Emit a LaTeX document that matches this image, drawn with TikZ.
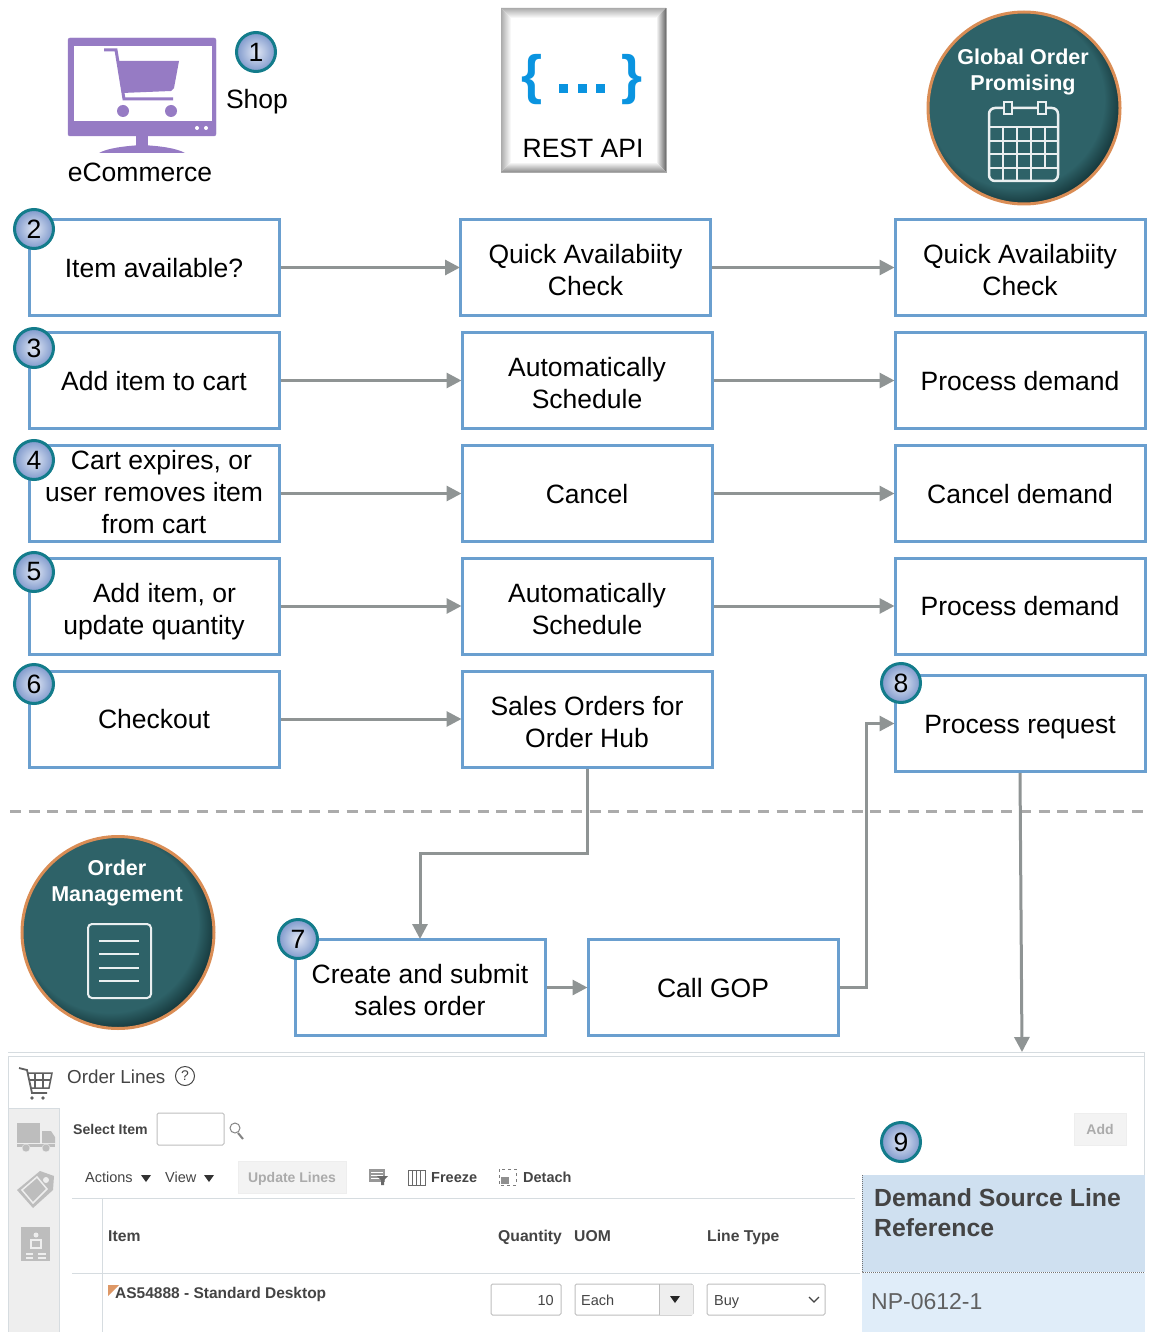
\documentclass[tikz,border=0pt]{standalone}
\usepackage{fontspec}
\setmainfont{Liberation Sans}
\usepackage{tikz}
\usetikzlibrary{arrows.meta}
\definecolor{boxblue}{HTML}{6A9FCF}
\definecolor{flowgray}{HTML}{8F9494}
\definecolor{dashgray}{HTML}{ABABAB}
\definecolor{badgerim}{HTML}{137C8B}
\definecolor{badgein}{HTML}{E2E8F5}
\definecolor{badgeout}{HTML}{7F99CC}
\definecolor{cartpurple}{HTML}{967BC4}
\definecolor{restblue}{HTML}{0A94E0}
\definecolor{disc}{HTML}{2E6268}
\definecolor{discdark}{HTML}{173A3E}
\definecolor{discrim}{HTML}{DA8D55}
\definecolor{uitext}{HTML}{444444}
\definecolor{uidim}{HTML}{ABABAB}
\definecolor{uiline}{HTML}{D6DCE0}
\definecolor{uiside}{HTML}{EEEEEE}
\definecolor{uiicon}{HTML}{BDBDBD}
\definecolor{panelhead}{HTML}{CFE0F0}
\definecolor{panelrow}{HTML}{E0EDF9}
\pgfdeclareradialshading{discshade}{\pgfpoint{-4bp}{4bp}}{color(0bp)=(disc); color(23bp)=(disc); color(27bp)=(discdark); color(50bp)=(discdark)}
\newcommand{\firstline}{\rule{0pt}{31pt}}
\newcommand{\dropline}[1]{\raisebox{-3.5pt}{#1}}
\tikzset{
 flowbox/.style={draw=boxblue, fill=white, line width=3pt, minimum width=250pt, minimum height=96pt, inner sep=0pt, align=center, font=\fontsize{26.5}{32}\selectfont, execute at begin node={\rule{0pt}{25.5pt}}, execute at end node={\rule[-6.5pt]{0pt}{6.5pt}}},
 badge/.style={circle, draw=badgerim, line width=3pt, inner color=badgein, outer color=badgeout, minimum size=39pt, inner sep=0pt, font=\fontsize{26.5}{30}\selectfont},
 flowline/.style={draw=flowgray, line width=3pt, shorten >=-1pt, -{Triangle[length=15pt,width=15pt]}},
 plaintext/.style={inner sep=0pt, font=\fontsize{26.5}{32}\selectfont},
 disctext/.style={inner sep=0pt, text=white, align=center, font=\fontsize{21.5}{26}\selectfont\bfseries},
 discnode/.style={circle, draw=discrim, line width=3pt, shading=discshade, minimum size=192pt, inner sep=0pt},
 uilabel/.style={inner sep=0pt, anchor=base west, text=uitext, font=\fontsize{14.5}{17}\selectfont\bfseries},
 uihead/.style={uilabel, font=\fontsize{15.7}{17}\selectfont\bfseries},
 uiplain/.style={uilabel, font=\fontsize{14.5}{17}\selectfont},
 uibox/.style={draw=uiicon, line width=1pt, rounded corners=1.5pt, fill=white, inner sep=0pt},
 uibutton/.style={inner sep=0pt, text=uidim, fill=uiside!70, draw=uiside, text height=10pt, text depth=0pt, font=\fontsize{14}{17}\selectfont\bfseries}
}
\begin{document}
\begin{tikzpicture}[x=1pt,y=-1pt]
\path[use as bounding box] (0,0) rectangle (1149,1332);

\filldraw[fill=cartpurple, draw=cartpurple, rounded corners=2pt] (68,38) rectangle (216,136);
\filldraw[fill=white, draw=white] (74,46) rectangle (211,120);
\fill[cartpurple] (136,135) rectangle (148,146);
\fill[cartpurple] (99,153) .. controls (108,148) and (125,146) .. (142,145) .. controls (160,146) and (176,148) .. (185,153) -- cycle;
\fill[cartpurple] (117,61) -- (179,61) -- (174,88) -- (171,91) -- (122,93) -- cycle;
\draw[cartpurple, line width=3pt] (104,50) -- (116,50) -- (124,99) -- (173,99);
\foreach \x in {123,171}
	\fill[cartpurple] (\x,111) circle [radius=6];
\foreach \x in {197,206}
	\fill[white] (\x,128) circle [radius=2];
\node[plaintext] (ecom) at (140,172) {eCommerce};
\node[plaintext] (shop) at (257,102) {Shop};

\filldraw[fill=white, draw=uidim] (501,8) rectangle (666,172);
\shade[top color=uidim, bottom color=white] (501,8) -- (666,8) -- (656,18) -- (511,18) -- cycle;
\shade[left color=uidim, right color=white] (501,8) -- (511,18) -- (511,162) -- (501,172) -- cycle;
\shade[left color=white, right color=black!60] (666,8) -- (656,18) -- (656,162) -- (666,172) -- cycle;
\shade[top color=white, bottom color=black!45] (501,172) -- (511,162) -- (656,162) -- (666,172) -- cycle;
\node[inner sep=0pt, text=restblue, font=\fontsize{54}{54}\selectfont\bfseries] (bracel) at (532,80) {\{};
\node[inner sep=0pt, text=restblue, font=\fontsize{54}{54}\selectfont\bfseries] (bracer) at (632,80) {\}};
\foreach \x in {559,578,596}
	\fill[restblue] (\x,84) rectangle +(9,9);
\node[plaintext] (rest) at (583,148) {REST API};

\node[discnode] (gop) at (1024,108) {};
\node[disctext] (goptext) at (1023,72) {Global Order\\Promising};
\draw[white!90!disc, line width=2.5pt, rounded corners=6pt] (989,108) rectangle (1058,181);
\draw[white!90!disc, line width=2pt] (989,127) -- (1058,127);
\foreach \y in {141,154,168}
	\draw[white!90!disc, line width=2pt] (989,\y) -- (1058,\y);
\foreach \x in {1003,1017,1031}
	\draw[white!90!disc, line width=2pt] (\x,127) -- (\x,181);
\draw[white!90!disc, line width=2pt] (1045,127) -- (1045,168);
\foreach \x in {1004,1038}
	\filldraw[fill=disc, draw=white!90!disc, line width=2pt] (\x,102) rectangle +(8,12);

\foreach \name/\x/\y/\txt in {
 item/154/267.5/{Item available?},
 add/154/380.5/{Add item to cart},
 expire/154/493.5/{\dropline{\hspace*{15pt}Cart expires, or}\\\dropline{user removes item}\\\dropline{from cart}},
 update/154/606/{\firstline\hspace*{21pt}Add item, or\\update quantity},
 checkout/154/719/{Checkout},
 quicka/585.5/267.5/{\firstline Quick Availabiity\\Check},
 schedulea/587/380.5/{\firstline Automatically\\Schedule},
 cancel/587/493.5/{Cancel},
 scheduleb/587/606/{\firstline Automatically\\Schedule},
 salesorder/587/719/{\firstline Sales Orders for\\Order Hub},
 quickb/1020/267.5/{\firstline Quick Availabiity\\Check},
 processa/1020/380.5/{Process demand},
 canceldemand/1020/493.5/{Cancel demand},
 processb/1020/606/{Process demand},
 request/1020/723.5/{Process request},
 create/420/987.5/{\firstline Create and submit\\sales order},
 callgop/713/987.5/{Call GOP}}
	\node[flowbox] (\name) at (\x,\y) {\txt};

\foreach \a/\b in {item/quicka, quicka/quickb, add/schedulea, schedulea/processa, expire/cancel, cancel/canceldemand, update/scheduleb, scheduleb/processb, checkout/salesorder, create/callgop}
	\draw[flowline] (\a) -- (\b);

\draw[dashgray, line width=3pt, dash pattern=on 11pt off 7.7pt] (10,811) -- (1149,811);

\coordinate (bendone) at (420,853);
\coordinate (bendtwo) at (866,987.5);
\coordinate (linestop) at (1022,1051);
\draw[flowline] (salesorder.south) |- (bendone) -- (create.north);
\draw[flowline] (callgop.east) -- (bendtwo) |- (request.west);
\draw[flowline] (request.south) -- (linestop);

\node[discnode] (om) at (118,932.5) {};
\node[disctext] (omtext) at (117,883) {Order\\Management};
\draw[white!90!disc, line width=2pt, rounded corners=4pt] (88,924) rectangle (151,998);
\foreach \y in {941,954,968,981}
	\draw[white!90!disc, line width=2pt] (99,\y) -- (139,\y);

\draw[uiline, line width=1pt] (8,1052) -- (1145,1052);
\draw[uiline, line width=1pt] (8,1056) -- (1145,1056);
\draw[uiline, line width=1pt] (1144.5,1052) -- (1144.5,1175);
\fill[uiside] (8,1108) rectangle (59,1332);
\draw[uiline, line width=1pt] (8,1056) -- (8,1332);
\draw[uiline, line width=1pt] (59,1108) -- (59,1332);
\draw[uiline, line width=1pt] (8,1108) -- (59,1108);

\draw[uitext!85, line width=1.8pt] (19,1068) -- (27,1070) -- (32,1093) -- (47,1093);
\draw[uitext!85, line width=1.5pt] (27,1073) -- (52,1073) -- (49,1088) -- (30,1088);
\draw[uitext!85, line width=1.2pt] (29,1080) -- (51,1080);
\foreach \x in {35,43}
	\draw[uitext!85, line width=1.2pt] (\x,1073) -- (\x,1088);
\foreach \x in {32,43}
	\fill[uitext!85] (\x,1098) circle [radius=1.8];

\fill[uiicon] (17,1123) rectangle (40,1143);
\fill[uiicon] (42,1131) -- (51,1131) -- (55,1137) -- (55,1143) -- (42,1143) -- cycle;
\fill[uiicon] (17,1143.5) rectangle (55,1147);
\foreach \x in {26,46}
	\filldraw[fill=uiicon, draw=uiside] (\x,1148) circle [radius=4];

\fill[uiicon] (17,1190) -- (40,1171) -- (54,1176) -- (53,1190) -- (33,1208) -- cycle;
\draw[uiside, line width=1.5pt] (22,1190) -- (37,1177) -- (47,1189) -- (33,1203) -- cycle;
\fill[uiside] (46,1180) circle [radius=3];

\fill[uiicon] (21,1227) rectangle (50,1261);
\fill[uiside] (36,1235) circle [radius=2.5];
\draw[uiside, line width=1.5pt] (31,1240) rectangle (41,1248);
\foreach \y in {1254,1258} {
	\draw[uiside, line width=1.2pt] (26,\y) -- (33,\y);
	\draw[uiside, line width=1.2pt] (38,\y) -- (46,\y);
}

\node[uilabel, font=\fontsize{18.8}{22}\selectfont] (lines) at (67,1083) {Order Lines};
\node[circle, draw=uitext, line width=1pt, minimum size=19pt, inner sep=0pt, text=uitext, font=\fontsize{14}{16}\selectfont] (help) at (185,1076) {?};
\node[uilabel, font=\fontsize{14.1}{17}\selectfont\bfseries] (select) at (73,1134) {Select Item};
\node[uibox, minimum width=67pt, minimum height=32pt] (selectbox) at (190.5,1129) {};
\draw[uiicon!70!black, line width=1pt] (235,1128) circle [radius=5];
\draw[uiicon!70!black, line width=2pt] (238,1133) -- (243,1139);

\node[uiplain] (actions) at (85,1182) {Actions};
\node[uiplain] (view) at (165,1182) {View};
\foreach \x in {146,209}
	\fill[black!80] (\x-5,1175) -- (\x+5,1175) -- (\x,1182) -- cycle;
\node[uibutton, minimum width=108pt, minimum height=32pt] (updatelines) at (292,1177) {Update Lines};

\fill[uiicon!80!black] (369,1169) rectangle (385,1182);
\foreach \y in {1172,1175,1178}
	\draw[white, line width=.8pt] (371,\y) -- (383,\y);
\fill[uitext!80] (377,1176) -- (388,1176) -- (384,1180) -- (384,1185) -- (381,1185) -- (381,1180) -- cycle;
\draw[uitext!80, line width=1pt] (408,1170) rectangle (425,1185);
\foreach \x in {412,416,420}
	\draw[uitext!80, line width=1pt] (\x,1170) -- (\x,1185);
\node[uilabel] (freeze) at (431,1182) {Freeze};
\draw[uitext!70, line width=1pt, dashed] (499,1169) rectangle (516,1185);
\fill[uitext!60] (501,1177) rectangle (509,1184);
\node[uilabel] (detach) at (523,1182) {Detach};

\draw[uiline, line width=1pt] (72,1198) -- (855,1198);
\draw[uiline, line width=1pt] (72,1273) -- (860,1273);
\draw[uiline, line width=1pt] (102,1198) -- (102,1332);

\node[uihead] (itemhead) at (108,1241) {Item};
\node[uihead] (qtyhead) at (498,1241) {Quantity};
\node[uihead] (uomhead) at (574,1241) {UOM};
\node[uihead] (typehead) at (707,1241) {Line Type};

\fill[discrim!90] (108,1285) -- (119,1285) -- (108,1296) -- cycle;
\node[uilabel, font=\fontsize{15.5}{18}\selectfont\bfseries] (desktop) at (115,1298.5) {AS54888 - Standard Desktop};
\node[uibox, minimum width=70pt, minimum height=31pt] (qtybox) at (526,1299.5) {};
\node[inner sep=0pt, anchor=east, text=uitext, font=\fontsize{14.5}{17}\selectfont] (qty) at (554,1300) {10};
\node[uibox, minimum width=118pt, minimum height=31pt] (uombox) at (634,1299.5) {};
\fill[uiside] (659,1285) rectangle (692.5,1314.5);
\draw[uiicon, line width=1pt] (659,1284) -- (659,1315);
\fill[black!85] (670,1296) -- (680,1296) -- (675,1303) -- cycle;
\node[uiplain] (each) at (581,1305) {Each};
\node[uibox, minimum width=118pt, minimum height=31pt] (typebox) at (766,1299.5) {};
\node[uiplain] (buy) at (714,1305) {Buy};
\draw[uitext, line width=1.3pt] (809,1297) -- (814,1302) -- (819,1297);

\node[uibutton, minimum width=52pt, minimum height=32pt] (addbtn) at (1100,1129) {Add};

\fill[panelhead] (862,1175) rectangle (1145,1272);
\fill[panelrow] (862,1273) rectangle (1145,1332);
\draw[black!55, line width=1pt, densely dotted] (862,1175) -- (862,1272) -- (1145,1272);
\node[inner sep=0pt, anchor=north west, align=left, text=uitext, font=\fontsize{24.8}{30}\selectfont\bfseries] (demandhead) at (874,1188) {Demand Source Line\\Reference};
\node[uilabel, font=\fontsize{23}{26}\selectfont, text=uitext!85] (demandval) at (871,1309) {NP-0612-1};

\foreach \n/\x/\y in {1/256/52, 2/34/229, 3/34/348, 4/34/460, 5/34/572, 6/34/684, 7/298/939, 8/901/683, 9/901/1142}
	\node[badge] (badge\n) at (\x,\y) {\n};
\end{tikzpicture}
\end{document}
